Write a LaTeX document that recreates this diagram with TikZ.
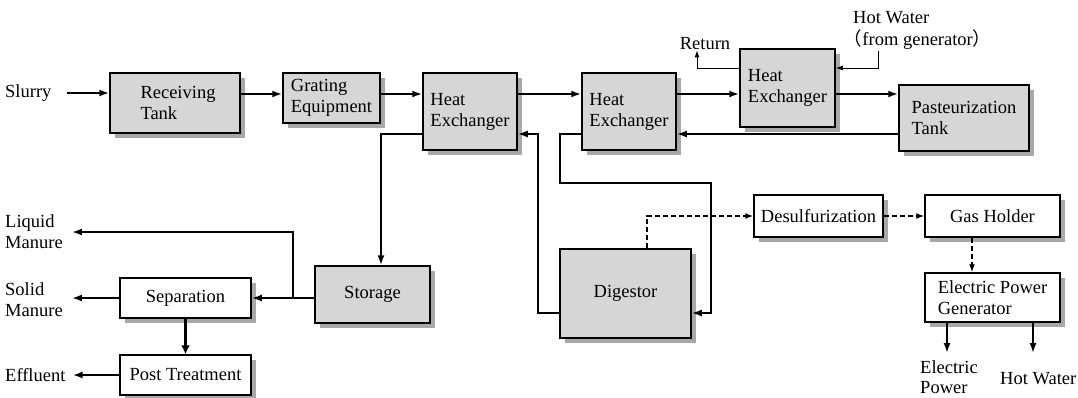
\documentclass[tikz,border=0pt]{standalone}
\usepackage{fontspec}
\setmainfont{Liberation Serif}
\newfontfamily\cjk{Noto Sans CJK SC}
\usetikzlibrary{arrows.meta,shadows}
\definecolor{boxgray}{HTML}{D6D6D6}
\definecolor{shadowgray}{HTML}{A8A8A8}
\begin{document}
\begin{tikzpicture}[x=1pt,y=-1pt,
  font=\fontsize{18.5}{21}\selectfont,
  gbox/.style={draw, line width=1.5pt, fill=boxgray, align=left, inner sep=0pt,
    drop shadow={shadow xshift=4.5pt, shadow yshift=-4.5pt, fill=shadowgray, opacity=1}},
  wbox/.style={gbox, fill=white},
  lbl/.style={inner sep=0pt, align=left},
  flow/.style={line width=1.8pt, -{Latex[length=10pt,width=7pt]}},
  thickflow/.style={line width=3.5pt, -{Latex[length=9pt,width=9pt]}},
  tflow/.style={line width=1pt, -{Latex[length=7pt,width=5pt]}},
  dflow/.style={line width=1.4pt, dash pattern=on 5pt off 3pt, -{Latex[length=8pt,width=6pt]}}
]
\useasboundingbox (0,0) rectangle (1078,397);

% boxes
\node[gbox, minimum width=130pt, minimum height=60pt] (rt) at (175,103) {\hspace*{6pt}Receiving\\\hspace*{6pt}Tank};
\node[gbox, minimum width=97pt, minimum height=50pt] (ge) at (331.5,98) {Grating\\Equipment};
\node[gbox, minimum width=94pt, minimum height=77pt] (he1) at (470,111.5) {Heat\\Exchanger};
\node[gbox, minimum width=94pt, minimum height=77pt] (he2) at (629,111.5) {Heat\\Exchanger};
\node[gbox, minimum width=95pt, minimum height=78pt] (he3) at (787.5,88) {Heat\\Exchanger};
\node[gbox, minimum width=130pt, minimum height=66pt] (pt) at (964,118) {Pasteurization\\Tank};
\node[gbox, minimum width=115pt, minimum height=57pt] (st) at (372.5,294.5) {Storage};
\node[gbox, minimum width=131pt, minimum height=89pt] (dg) at (625.5,293.5) {Digestor};
\node[wbox, minimum width=129pt, minimum height=42pt] (ds) at (818.5,216) {Desulfurization};
\node[wbox, minimum width=135pt, minimum height=42pt] (gh) at (992.5,216) {Gas Holder};
\node[wbox, minimum width=135pt, minimum height=49pt] (epg) at (992.5,297.5) {Electric Power\\Generator};
\node[wbox, minimum width=131pt, minimum height=40pt] (sep) at (185.5,298) {Separation};
\node[wbox, minimum width=131pt, minimum height=40pt] (ptr) at (185.5,375) {Post Treatment};

% labels
\node[lbl, anchor=west] (slurry) at (5,93) {Slurry};
\node[lbl, anchor=west] (lm) at (5,232) {Liquid\\Manure};
\node[lbl, anchor=west] (sm) at (5,300) {Solid\\Manure};
\node[lbl, anchor=west] (eff) at (5,375) {Effluent};
\node[lbl] (ret) at (705,44) {Return};
\node[lbl, anchor=west, font=\fontsize{18.5}{22}\selectfont] (hw) at (853,30) {Hot Water\\\hspace*{-0.5em}{\cjk （}from generator{\cjk ）}};
\node[lbl, anchor=west, font=\fontsize{18.5}{20}\selectfont] (ep) at (920,377) {Electric\\Power};
\node[lbl, anchor=west] (hwo) at (1000,379) {Hot Water};

% helper coordinates
\coordinate (r1) at (0,94);
\coordinate (r2) at (0,134);
\coordinate (r3) at (0,313);
\coordinate (r4) at (0,298);
\coordinate (r5) at (0,68);
\coordinate (c1) at (381,0);
\coordinate (c2) at (538,0);
\coordinate (c3) at (560,183);
\coordinate (c4) at (711,183);
\coordinate (c5) at (647,0);
\coordinate (c6) at (972,0);
\coordinate (c8) at (697,0);
\coordinate (c9) at (878,0);
\coordinate (j) at (293,298);
\coordinate (epA) at (947,353);
\coordinate (hwA) at (1033,353);

% main flow
\draw[flow, shorten <=15pt] (slurry.east) -- (slurry.east -| rt.west);
\draw[flow] (rt.east |- r1) -- (ge.west |- r1);
\draw[flow] (ge.east |- r1) -- (he1.west |- r1);
\draw[flow] (he1.east |- r1) -- (he2.west |- r1);
\draw[flow] (he2.east |- r1) -- (he3.west |- r1);
\draw[flow] (he3.east |- r1) -- (pt.west |- r1);
\draw[flow] (pt.west |- r2) -- (he2.east |- r2);
\draw[flow] (he1.west |- r2) -| (c1 |- st.north);
\draw[flow] (dg.west |- r3) -| (c2 |- r2) -- (he1.east |- r2);
\draw[flow] (he2.west |- r2) -| (c3) -| (c4 |- r3) -- (dg.east |- r3);

% storage side
\draw[flow] (st.west |- r4) -- (sep.east |- r4);
\draw[flow, shorten >=9pt] (j) |- (lm.east);
\draw[flow, shorten >=9pt] (sep.west) -- (sep.west -| sm.east);
\draw[thickflow] (sep.south) -- (ptr.north);
\draw[flow, shorten >=7pt] (ptr.west) -- (ptr.west -| eff.east);

% gas path
\draw[dflow] (c5 |- dg.north) |- (ds.west);
\draw[dflow] (ds.east) -- (gh.west);
\draw[dflow] (c6 |- gh.south) -- (c6 |- epg.north);
\draw[flow] (epA |- epg.south) -- (epA);
\draw[flow] (hwA |- epg.south) -- (hwA);

% heat exchanger 3 thin lines
\draw[tflow] (he3.west |- r5) -| (c8 |- ret.south);
\draw[tflow, shorten <=2pt] (c9 |- hw.south) |- (he3.east |- r5);
\end{tikzpicture}
\end{document}
